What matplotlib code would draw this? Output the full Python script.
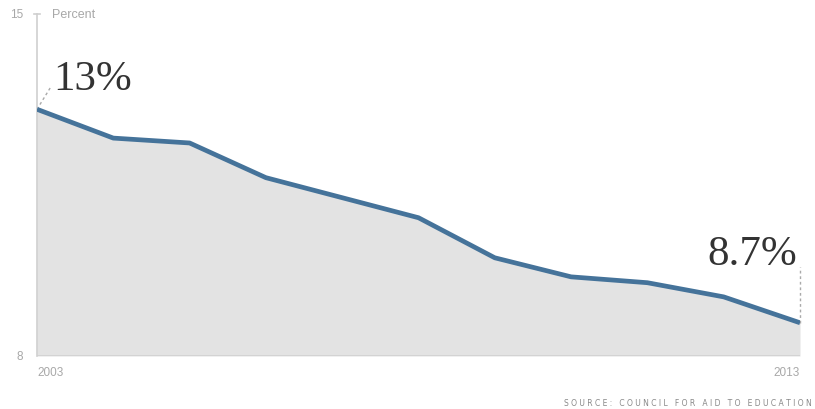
import numpy as np
import matplotlib.pyplot as plt

years = [2003, 2004, 2005, 2006, 2007, 2008, 2009, 2010, 2011, 2012, 2013]
percent = [13.05, 12.46, 12.36, 11.65, 11.24, 10.83, 10.01, 9.62, 9.50, 9.21, 8.68]
first_label = '13%'
last_label = '8.7%'
source = 'SOURCE: COUNCIL FOR AID TO EDUCATION'

line_color = '#45739a'
gray_text = '#a8a8a8'
small_font = 'Liberation Sans'

fig = plt.figure(figsize=(8.15, 4.1), dpi=100)
ax = fig.add_axes([37 / 815, 53 / 410, 763 / 815, 342 / 410])

ax.fill_between(years, percent, 8, color='#e3e3e3', lw=0, zorder=1)
ax.plot(years, percent, color=line_color, lw=3.4, solid_capstyle='butt', zorder=3)
ax.axhline(8, color='#d0d0d0', lw=1.2, zorder=2)

ax.set_xlim(years[0], years[-1])
ax.set_ylim(8, 15)

for s in ['top', 'right', 'bottom']:
    ax.spines[s].set_visible(False)
ax.spines['left'].set_color('#cfcfcf')
ax.spines['left'].set_linewidth(1.2)
ax.set_xticks([])
ax.set_yticks([])

# tick cap at 15
ax.plot([years[0] - 0.04, years[0] + 0.04], [15, 15], color='#cfcfcf', lw=1.2, clip_on=False)

ax.text(-0.018, 1.0, '15', transform=ax.transAxes, ha='right', va='center', color=gray_text, fontsize=8.5, fontfamily=small_font)
ax.text(-0.018, 0.0, '8', transform=ax.transAxes, ha='right', va='center', color=gray_text, fontsize=8.5, fontfamily=small_font)
ax.text(0.02, 1.0, 'Percent', transform=ax.transAxes, ha='left', va='center', color=gray_text, fontsize=9, fontfamily=small_font)
ax.text(0.0, -0.047, str(years[0]), transform=ax.transAxes, ha='left', va='center', color=gray_text, fontsize=8.5, fontfamily=small_font)
ax.text(1.0, -0.047, str(years[-1]), transform=ax.transAxes, ha='right', va='center', color=gray_text, fontsize=8.5, fontfamily=small_font)

# callouts
ax.plot([years[0], years[0] + 0.19], [percent[0], 13.53], color='#aaaaaa', lw=1, ls=(0, (2, 2)), zorder=2)
ax.text(years[0] + 0.21, 13.47, first_label, ha='left', va='baseline', fontsize=31, color='#333333', fontfamily='Liberation Serif')
ax.plot([years[-1], years[-1]], [percent[-1], 9.83], color='#aaaaaa', lw=1, ls=(0, (2, 2)), zorder=2, clip_on=False)
ax.text(years[-1] - 0.04, 9.89, last_label, ha='right', va='baseline', fontsize=31, color='#333333', fontfamily='Liberation Serif')

fig.text(812 / 815, 6 / 410, ' '.join(source), ha='right', va='center', fontsize=5.5, color='#888888', fontfamily='DejaVu Sans')

fig.savefig('out.png', dpi=100)
